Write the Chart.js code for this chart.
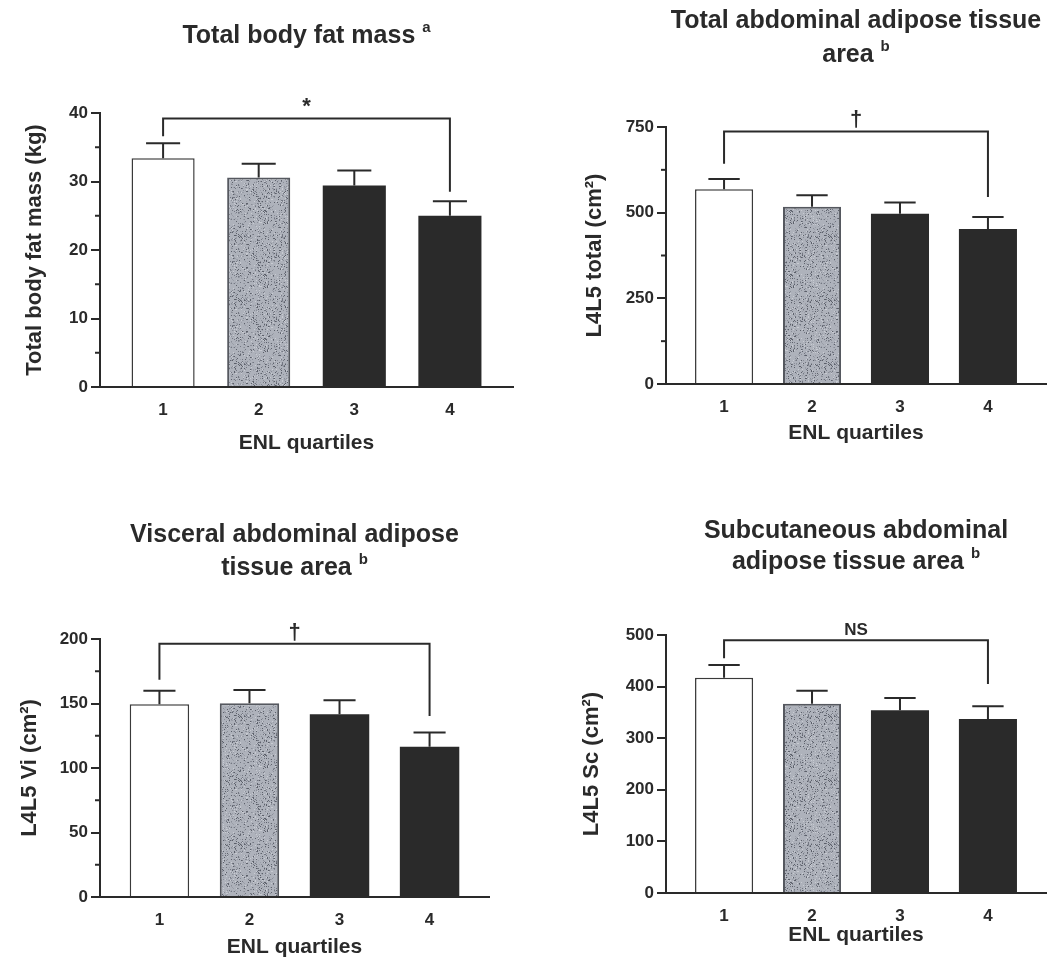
<!DOCTYPE html>
<html>
<head>
<meta charset="utf-8">
<script src="https://cdn.jsdelivr.net/npm/chart.js@4/dist/chart.umd.min.js"></script>
<style>
  body { margin: 0; background: #fff; width: 1053px; height: 961px; position: relative; overflow: hidden; }
  canvas { position: absolute; }
</style>
</head>
<body>
<canvas id="fatMassChart" width="526" height="480" style="left:0;top:0"></canvas>
<canvas id="totalAreaChart" width="527" height="480" style="left:526px;top:0"></canvas>
<canvas id="visceralChart" width="526" height="481" style="left:0;top:480px"></canvas>
<canvas id="subcutChart" width="527" height="481" style="left:526px;top:480px"></canvas>
<script>
const quartiles = [1, 2, 3, 4];

const fatMassMean = [33.4, 30.6, 29.4, 25.0];
const fatMassSE = [2.2, 2.0, 2.2, 2.1];
const fatMassTicks = [0, 10, 20, 30, 40];

const totalAreaMean = [568, 517, 497, 452];
const totalAreaSE = [30, 34, 33, 35];
const totalAreaTicks = [0, 250, 500, 750];

const visceralMean = [149.5, 150.2, 141.7, 116.5];
const visceralSE = [10.3, 10.3, 10.9, 11.0];
const visceralTicks = [0, 50, 100, 150, 200];

const subcutMean = [417, 367, 354, 337];
const subcutSE = [25, 25, 24, 25];
const subcutTicks = [0, 100, 200, 300, 400, 500];

// comparison bracket Q1 vs Q4: [level, left leg end, right leg end]
const fatMassBracket = [39.2, 36.6, 28.5];
const totalAreaBracket = [737, 643, 546];
const visceralBracket = [196.4, 168.4, 140.4];
const subcutBracket = [490, 455, 405];

const INK = '#2a2a2a';
const FONT = '"Liberation Sans", Arial, Helvetica, sans-serif';

function speckle() {
  // grey stippled fill of the 2nd quartile bar
  const c = document.createElement('canvas');
  c.width = 64;
  c.height = 64;
  const g = c.getContext('2d');
  g.fillStyle = '#aeb2bb';
  g.fillRect(0, 0, 64, 64);
  let seed = 7;
  const next = () => {
    seed = (seed * 16807) % 2147483647;
    return seed / 2147483647;
  };
  const tones = ['#8a8e98', '#737782', '#c8cbd2', '#9a9ea8', '#5c606a'];
  for (let i = 0; i < 1100; i++) {
    g.fillStyle = tones[Math.floor(next() * tones.length)];
    g.fillRect(Math.floor(next() * 64), Math.floor(next() * 64), 1, 1);
  }
  return g.createPattern(c, 'repeat');
}

const annotate = {
  id: 'annotate',
  afterDatasetsDraw(chart, args, opts) {
    const ctx = chart.ctx;
    const xs = chart.scales.x;
    const ys = chart.scales.y;
    const bars = chart.getDatasetMeta(0).data;

    ctx.save();
    ctx.strokeStyle = INK;
    ctx.lineWidth = 2;

    bars.forEach((bar, i) => {
      const top = ys.getPixelForValue(opts.mean[i] + opts.se[i]);
      const half = bar.width * 0.27;
      ctx.beginPath();
      ctx.moveTo(bar.x, bar.y);
      ctx.lineTo(bar.x, top);
      ctx.moveTo(bar.x - half, top);
      ctx.lineTo(bar.x + half, top);
      ctx.stroke();
    });

    const [level, leftEnd, rightEnd] = opts.bracket;
    const x1 = xs.getPixelForValue(quartiles[0]);
    const x2 = xs.getPixelForValue(quartiles[quartiles.length - 1]);
    const yl = ys.getPixelForValue(level);
    ctx.beginPath();
    ctx.moveTo(x1, ys.getPixelForValue(leftEnd));
    ctx.lineTo(x1, yl);
    ctx.lineTo(x2, yl);
    ctx.lineTo(x2, ys.getPixelForValue(rightEnd));
    ctx.stroke();

    ctx.fillStyle = INK;
    ctx.textAlign = 'center';
    ctx.textBaseline = 'alphabetic';
    ctx.font = opts.mark === 'NS' ? `bold 17px ${FONT}` : `bold 22px ${FONT}`;
    ctx.fillText(opts.mark, (x1 + x2) / 2, yl - 5);

    if (opts.minor) {
      const ticks = ys.ticks;
      const xa = chart.chartArea.left;
      for (let i = 0; i < ticks.length - 1; i++) {
        const py = ys.getPixelForValue((ticks[i].value + ticks[i + 1].value) / 2);
        ctx.beginPath();
        ctx.moveTo(xa - 5, py);
        ctx.lineTo(xa, py);
        ctx.stroke();
      }
    }
    ctx.restore();
  },
};

const panelTitle = {
  id: 'panelTitle',
  afterDraw(chart, args, opts) {
    const ctx = chart.ctx;
    const cx = (chart.chartArea.left + chart.chartArea.right) / 2;
    const mainFont = `bold 25px ${FONT}`;
    const supFont = `bold 15px ${FONT}`;
    ctx.save();
    ctx.fillStyle = INK;
    ctx.textAlign = 'left';
    ctx.textBaseline = 'alphabetic';
    opts.lines.forEach((line, i) => {
      const last = i === opts.lines.length - 1;
      const text = last ? line + ' ' : line;
      ctx.font = mainFont;
      const w = ctx.measureText(text).width;
      ctx.font = supFont;
      const sw = last ? ctx.measureText(opts.sup).width : 0;
      const x0 = cx - (w + sw) / 2;
      ctx.font = mainFont;
      ctx.fillText(text, x0, opts.baselines[i]);
      if (last) {
        ctx.font = supFont;
        ctx.fillText(opts.sup, x0 + w, opts.baselines[i] - 11);
      }
    });
    ctx.restore();
  },
};

function makePanel(id, p) {
  const canvas = document.getElementById(id);
  const W = canvas.width;
  const H = canvas.height;
  const xTitlePad = p.xTitlePad === undefined ? 4 : p.xTitlePad;
  const padLeft = p.yTitleX - 17;
  const padBottom = Math.max(0, H - (p.xTitleY + 13 + xTitlePad));
  const pattern = speckle();

  return new Chart(canvas, {
    type: 'bar',
    data: {
      datasets: [{
        data: quartiles.map((q, i) => ({ x: q, y: p.mean[i] })),
        backgroundColor: ['#ffffff', pattern, INK, INK],
        borderColor: ['#3a3a3a', '#55585f', INK, INK],
        borderWidth: [1.5, 2, 0, 0],
        borderSkipped: 'bottom',
        categoryPercentage: 1,
        barPercentage: 0.66,
      }],
    },
    options: {
      responsive: false,
      animation: false,
      devicePixelRatio: 1,
      layout: {
        padding: { left: padLeft, right: W - p.area.r, top: p.area.t, bottom: padBottom },
      },
      plugins: {
        legend: { display: false },
        tooltip: { enabled: false },
        annotate: { mean: p.mean, se: p.se, bracket: p.bracket, mark: p.mark, minor: p.minor },
        panelTitle: { lines: p.title, sup: p.sup, baselines: p.baselines },
      },
      scales: {
        x: {
          type: 'linear',
          offset: false,
          min: 0.34,
          max: 4.66,
          grid: { display: false },
          border: { display: true, color: INK, width: 2 },
          afterBuildTicks: (s) => { s.ticks = quartiles.map((v) => ({ value: v })); },
          afterFit: (s) => { s.height = H - padBottom - p.area.b; },
          ticks: {
            color: INK,
            padding: 5,
            font: { family: FONT, size: 17, weight: 'bold' },
          },
          title: {
            display: true,
            text: 'ENL quartiles',
            color: INK,
            padding: { top: 4, bottom: xTitlePad },
            font: { family: FONT, size: 21, weight: 'bold' },
          },
        },
        y: {
          min: p.ticks[0],
          max: p.ticks[p.ticks.length - 1],
          grid: {
            drawOnChartArea: false,
            drawTicks: true,
            tickLength: 9,
            color: INK,
            lineWidth: 2,
          },
          border: { display: true, color: INK, width: 2 },
          afterBuildTicks: (s) => { s.ticks = p.ticks.map((v) => ({ value: v })); },
          afterFit: (s) => { s.width = p.area.l - padLeft; },
          ticks: {
            color: INK,
            padding: 3,
            font: { family: FONT, size: 17, weight: 'bold' },
          },
          title: {
            display: true,
            text: p.yTitle,
            color: INK,
            padding: { top: 4, bottom: 4 },
            font: { family: FONT, size: 22, weight: 'bold' },
          },
        },
      },
    },
    plugins: [annotate, panelTitle],
  });
}

makePanel('fatMassChart', {
  mean: fatMassMean, se: fatMassSE, ticks: fatMassTicks, bracket: fatMassBracket,
  mark: '*', minor: true,
  yTitle: 'Total body fat mass (kg)',
  title: ['Total body fat mass'], sup: 'a', baselines: [43],
  area: { l: 100, r: 513, t: 113, b: 387 }, yTitleX: 35, xTitleY: 443,
});

makePanel('totalAreaChart', {
  mean: totalAreaMean, se: totalAreaSE, ticks: totalAreaTicks, bracket: totalAreaBracket,
  mark: '\u2020', minor: true,
  yTitle: 'L4L5 total (cm\u00B2)',
  title: ['Total abdominal adipose tissue', 'area'], sup: 'b', baselines: [28, 62],
  area: { l: 140, r: 520, t: 127, b: 384 }, yTitleX: 69, xTitleY: 433,
});

makePanel('visceralChart', {
  mean: visceralMean, se: visceralSE, ticks: visceralTicks, bracket: visceralBracket,
  mark: '\u2020', minor: true,
  yTitle: 'L4L5 Vi (cm\u00B2)',
  title: ['Visceral abdominal adipose', 'tissue area'], sup: 'b', baselines: [62, 95],
  area: { l: 100, r: 489, t: 159, b: 417 }, yTitleX: 30, xTitleY: 467, xTitlePad: 1,
});

makePanel('subcutChart', {
  mean: subcutMean, se: subcutSE, ticks: subcutTicks, bracket: subcutBracket,
  mark: 'NS', minor: false,
  yTitle: 'L4L5 Sc (cm\u00B2)',
  title: ['Subcutaneous abdominal', 'adipose tissue area'], sup: 'b', baselines: [58, 89],
  area: { l: 140, r: 520, t: 155, b: 413 }, yTitleX: 66, xTitleY: 455,
});
</script>
</body>
</html>
